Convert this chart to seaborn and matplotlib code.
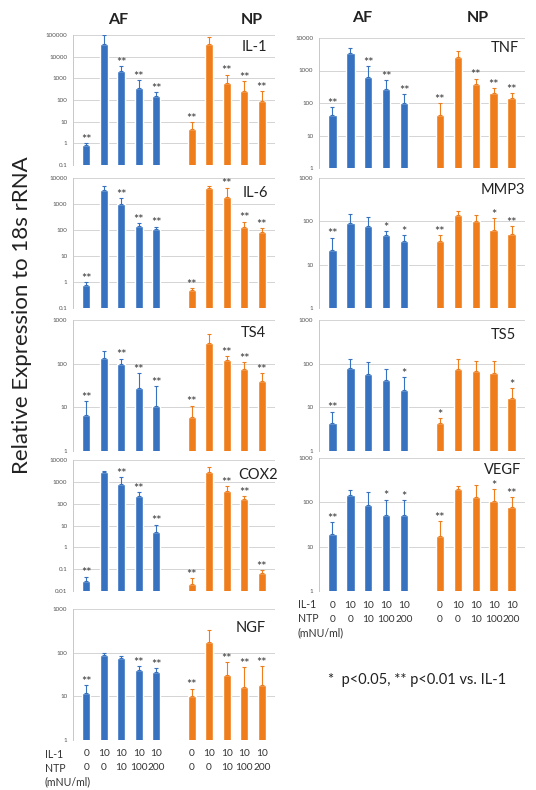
import numpy as np
import pandas as pd
import matplotlib.pyplot as plt
import seaborn as sns


sns.set_style("white")
plt.rcParams['font.family'] = ['Lato', 'DejaVu Sans']

BLUE = "#3672c0"
ORANGE = "#f07d1c"

tissue = ["AF"] * 5 + ["NP"] * 5
il1_dose = ["0", "10", "10", "10", "10"]
ntp_dose = ["0", "0", "10", "100", "200"]

# AF x5 then NP x5: bar value, top of error bar, significance vs IL-1
il1_mean = [0.8, 40000, 2100, 370, 150, 4.8, 40000, 580, 260, 90]
il1_top = [1.0, 100000, 3800, 800, 230, 9.6, 80000, 1500, 740, 260]
il1_sig = ["**", "", "**", "**", "**", "**", "", "**", "**", "**"]

il6_mean = [0.76, 3500, 1000, 140, 105, 0.5, 4300, 1900, 135, 87]
il6_top = [1.0, 5000, 1650, 180, 135, 0.6, 5000, 4300, 210, 120]
il6_sig = ["**", "", "**", "**", "**", "**", "", "**", "**", "**"]

ts4_mean = [6.7, 133, 96, 28, 11, 6.1, 300, 120, 77, 40]
ts4_top = [14, 195, 130, 62, 31, 11, 480, 150, 110, 60]
ts4_sig = ["**", "", "**", "**", "**", "**", "", "**", "**", "**"]

cox2_mean = [0.029, 2700, 800, 225, 4.9, 0.021, 2700, 370, 160, 0.066]
cox2_top = [0.046, 3200, 1600, 340, 11, 0.038, 4600, 630, 220, 0.09]
cox2_sig = ["**", "", "**", "**", "**", "**", "", "**", "**", "**"]

ngf_mean = [12, 87, 75, 41, 37, 10, 175, 30, 16, 18]
ngf_top = [18, 100, 85, 50, 45, 15, 325, 61, 46, 50]
ngf_sig = ["**", "", "", "**", "**", "**", "", "**", "**", "**"]

tnf_mean = [44, 3500, 630, 270, 100, 44, 2600, 390, 200, 140]
tnf_top = [76, 5000, 1350, 500, 190, 100, 4000, 560, 290, 200]
tnf_sig = ["**", "", "**", "**", "**", "**", "", "**", "**", "**"]

mmp3_mean = [22, 93, 77, 48, 36, 35, 138, 100, 64, 50]
mmp3_top = [42, 150, 125, 59, 48, 48, 170, 140, 120, 78]
mmp3_sig = ["**", "", "", "*", "*", "**", "", "", "*", "**"]

ts5_mean = [4.3, 81, 57, 43, 25, 4.3, 77, 68, 60, 16]
ts5_top = [8, 130, 110, 77, 50, 5.6, 130, 115, 115, 28]
ts5_sig = ["**", "", "", "", "*", "*", "", "", "", "*"]

vegf_mean = [19.5, 150, 89, 53, 53, 17, 195, 132, 107, 78]
vegf_top = [36, 190, 175, 115, 110, 38, 230, 240, 200, 130]
vegf_sig = ["**", "", "", "*", "*", "**", "", "", "*", "**"]

slots = ["AF1", "AF2", "AF3", "AF4", "AF5", "gap", "NP1", "NP2", "NP3", "NP4", "NP5"]
bar_slots = [s for s in slots if s != "gap"]

W, H = 536, 790
fig = plt.figure(figsize=(W / 100, H / 100), dpi=100)


def panel(x0, y0, x1, y1, name, mean, top, sig, ylim, lab_dx, lab_dy):
    ax = fig.add_axes([x0 / W, 1 - y1 / H, (x1 - x0) / W, (y1 - y0) / H])
    ax.set_yscale("log")
    df = pd.DataFrame({"slot": bar_slots, "value": mean, "tissue": tissue})
    sns.barplot(data=df, x="slot", y="value", hue="tissue", order=slots,
                palette={"AF": BLUE, "NP": ORANGE}, width=0.46, saturation=1,
                errorbar=None, legend=False, ax=ax)
    xs = np.array([slots.index(s) for s in bar_slots])
    mean = np.array(mean, dtype=float)
    top = np.array(top, dtype=float)
    for part, col in [(slice(0, 5), BLUE), (slice(5, 10), ORANGE)]:
        ax.errorbar(xs[part], mean[part],
                    yerr=[np.zeros(5), top[part] - mean[part]],
                    fmt="none", ecolor=col, elinewidth=0.8, capsize=1.5,
                    capthick=0.8)
    for x, t, s in zip(xs, top, sig):
        if s:
            ax.annotate(s, (x, t), xytext=(0, -2), textcoords="offset points",
                        ha="center", va="bottom", fontsize=9, color="#333333")
    ax.set_ylim(*ylim)
    decades = 10.0 ** np.arange(np.log10(ylim[0]), np.log10(ylim[1]) + 0.5)
    ax.set_yticks(decades)
    ax.set_yticklabels([f"{d:g}" for d in decades])
    ax.minorticks_off()
    ax.yaxis.grid(True, color="#d4d4d4", lw=0.7)
    ax.set_axisbelow(True)
    ax.tick_params(axis="y", labelsize=4.5, colors="#555555", length=0, pad=4)
    ax.tick_params(axis="x", labelbottom=False, length=0)
    ax.set_xlabel("")
    ax.set_ylabel("")
    sns.despine(ax=ax, top=True, right=True, bottom=True)
    ax.spines["left"].set_color("#c8c8c8")
    ax.spines["left"].set_linewidth(0.7)
    fig.text(lab_dx / W, 1 - lab_dy / H, name, ha="right", va="center",
             fontsize=10.5, color="#222222")
    return ax, xs


def dose_rows(ax, xs, row_x):
    for k, (row, vals) in enumerate([("IL-1", il1_dose * 2), ("NTP", ntp_dose * 2)]):
        off = -(14 + 14 * k) * 0.72
        for x, v in zip(xs, vals):
            ax.annotate(v, (x, 0), xycoords=("data", "axes fraction"),
                        xytext=(0, off), textcoords="offset points",
                        ha="center", va="center", fontsize=7.3, color="#333333")
        ax.annotate(row, (0, 0), xycoords=("figure fraction", "axes fraction"),
                    xytext=(row_x * 0.72, off), textcoords="offset points",
                    ha="left", va="center", fontsize=7.6, color="#333333")
    ax.annotate("(mNU/ml)", (0, 0), xycoords=("figure fraction", "axes fraction"),
                xytext=(row_x * 0.72, -42 * 0.72), textcoords="offset points",
                ha="left", va="center", fontsize=7.6, color="#333333")


LX0, LX1 = 73, 275
RX0, RX1 = 319, 525

panel(LX0, 35, LX1, 165, "IL-1", il1_mean, il1_top, il1_sig, (0.1, 1e5), 267, 47)
panel(LX0, 178, LX1, 308, "IL-6", il6_mean, il6_top, il6_sig, (0.1, 1e4), 268, 193)
panel(LX0, 320, LX1, 451, "TS4", ts4_mean, ts4_top, ts4_sig, (1, 1e3), 266, 333)
panel(LX0, 460, LX1, 591, "COX2", cox2_mean, cox2_top, cox2_sig, (0.01, 1e4), 278, 475)
ax_ngf, xs = panel(LX0, 609, LX1, 740, "NGF", ngf_mean, ngf_top, ngf_sig, (1, 1e3), 266, 628)
dose_rows(ax_ngf, xs, 45)

panel(RX0, 38, RX1, 168, "TNF", tnf_mean, tnf_top, tnf_sig, (1, 1e4), 519, 48)
panel(RX0, 178, RX1, 308, "MMP3", mmp3_mean, mmp3_top, mmp3_sig, (1, 1e3), 525, 190)
panel(RX0, 320, RX1, 451, "TS5", ts5_mean, ts5_top, ts5_sig, (1, 1e3), 516, 335)
ax_vegf, xs = panel(RX0, 458, RX1, 591, "VEGF", vegf_mean, vegf_top, vegf_sig, (1, 1e3), 521, 470)
dose_rows(ax_vegf, xs, 298)

for x, y, t in [(118, 20, "AF"), (252, 20, "NP"), (362, 18, "AF"), (478, 18, "NP")]:
    fig.text(x / W, 1 - y / H, t, ha="center", va="center",
             fontsize=11.5, fontweight="bold", color="#222222")

fig.text(22 / W, 1 - 315 / H, "Relative Expression to 18s rRNA", rotation=90,
         ha="center", va="center", fontsize=16, color="#222222")
fig.text(328 / W, 1 - 680 / H, "*  p<0.05, ** p<0.01 vs. IL-1",
         ha="left", va="center", fontsize=10.5, color="#222222")

plt.savefig("out.png", dpi=100)
